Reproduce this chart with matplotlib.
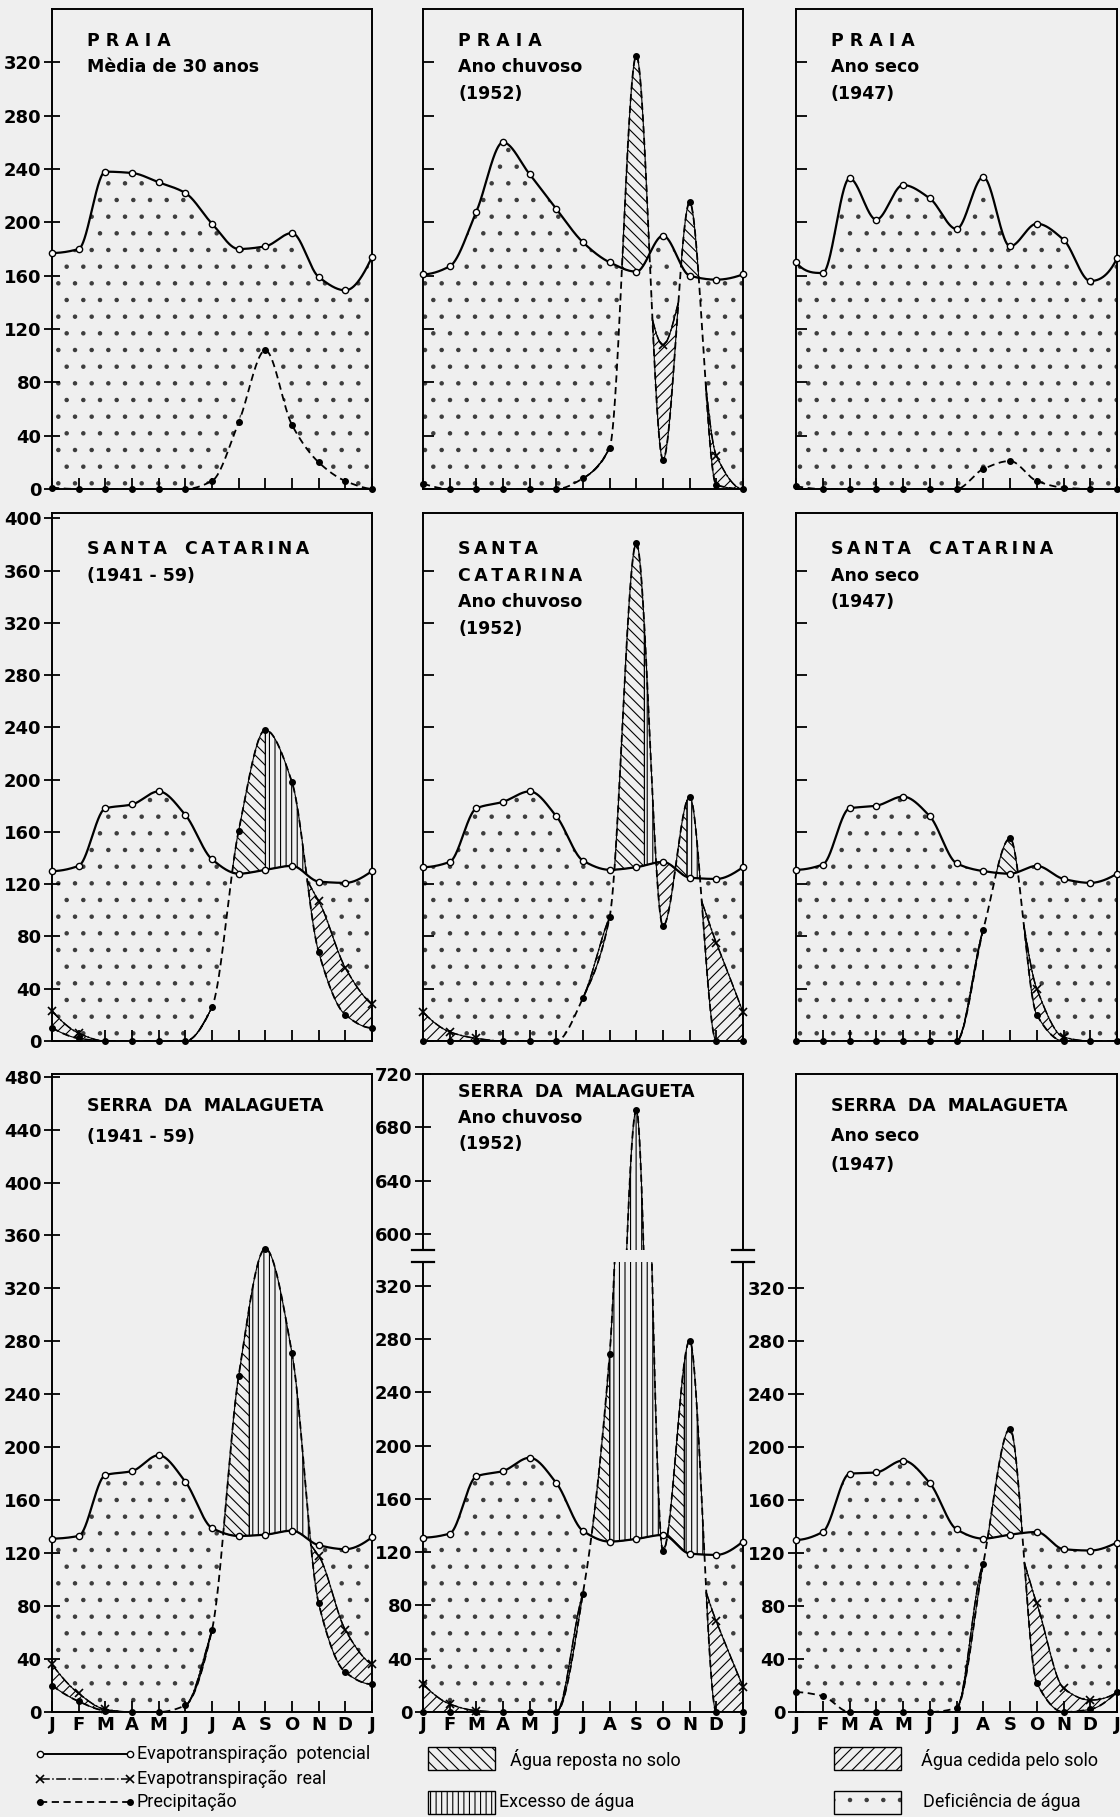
import numpy as np
import matplotlib
matplotlib.use('Agg')
import matplotlib.pyplot as plt
from matplotlib.patches import Rectangle

# ---------------- data (mm, J..J) ----------------
MONTHS = ['J', 'F', 'M', 'A', 'M', 'J', 'J', 'A', 'S', 'O', 'N', 'D', 'J']

EP_PRAIA_MEDIA = [177, 180, 238, 237, 230, 222, 199, 180, 182, 192, 159, 149, 174]
P_PRAIA_MEDIA = [1, 0, 0, 0, 0, 0, 6, 50, 104, 48, 20, 6, 0]
ER_PRAIA_MEDIA = [1, 0, 0, 0, 0, 0, 6, 50, 104, 48, 20, 6, 0]
REP_PRAIA_MEDIA = [(0, 12)]

EP_PRAIA_CHUV = [161, 167, 208, 260, 236, 210, 185, 170, 163, 190, 160, 157, 161]
P_PRAIA_CHUV = [4, 0, 0, 0, 0, 0, 8, 31, 325, 22, 215, 3, 0]
ER_PRAIA_CHUV = [4, 0, 0, 0, 0, 0, 8, 31, 163, 108, 160, 25, 0]
REP_PRAIA_CHUV = [(0, 12)]

EP_PRAIA_SECO = [170, 162, 233, 202, 228, 218, 195, 234, 182, 199, 187, 156, 173]
P_PRAIA_SECO = [2, 0, 0, 0, 0, 0, 0, 15, 21, 6, 1, 0, 0]
ER_PRAIA_SECO = [2, 0, 0, 0, 0, 0, 0, 15, 21, 6, 1, 0, 0]
REP_PRAIA_SECO = [(0, 12)]

EP_SC_MEDIA = [130, 134, 178, 181, 191, 173, 139, 128, 131, 134, 122, 121, 130]
P_SC_MEDIA = [10, 2, 0, 0, 0, 0, 26, 161, 238, 198, 68, 20, 10]
ER_SC_MEDIA = [23, 6, 0, 0, 0, 0, 26, 128, 131, 134, 107, 56, 28]
REP_SC_MEDIA = [(0, 8.0)]

EP_SC_CHUV = [133, 137, 178, 183, 191, 172, 138, 131, 133, 137, 125, 124, 133]
P_SC_CHUV = [0, 0, 0, 0, 0, 0, 33, 95, 381, 88, 187, 0, 0]
ER_SC_CHUV = [22, 7, 2, 0, 0, 0, 33, 95, 133, 137, 125, 75, 22]
REP_SC_CHUV = [(0, 8.3), (9.0, 9.9)]

EP_SC_SECO = [131, 135, 178, 180, 187, 172, 136, 130, 128, 134, 124, 121, 128]
P_SC_SECO = [0, 0, 0, 0, 0, 0, 0, 85, 155, 20, 0, 0, 0]
ER_SC_SECO = [0, 0, 0, 0, 0, 0, 0, 85, 128, 40, 3, 0, 0]
REP_SC_SECO = [(0, 12)]

EP_SM_MEDIA = [131, 133, 179, 182, 194, 174, 139, 133, 134, 137, 126, 123, 132]
P_SM_MEDIA = [20, 8, 1, 0, 0, 5, 62, 254, 350, 271, 82, 30, 21]
ER_SM_MEDIA = [36, 14, 2, 0, 0, 5, 62, 133, 134, 137, 118, 62, 36]
REP_SM_MEDIA = [(0, 7.4)]

EP_SM_CHUV = [131, 134, 177, 181, 191, 172, 136, 128, 130, 133, 119, 118, 128]
P_SM_CHUV = [0, 0, 0, 0, 0, 0, 89, 269, 693, 121, 279, 0, 0]
ER_SM_CHUV = [21, 6, 1, 0, 0, 0, 89, 128, 130, 133, 119, 68, 19]
REP_SM_CHUV = [(0, 7.0), (9.0, 9.8)]

EP_SM_SECO = [130, 136, 180, 181, 190, 173, 138, 131, 134, 136, 123, 122, 128]
P_SM_SECO = [15, 12, 0, 0, 0, 0, 3, 112, 214, 22, 0, 2, 15]
ER_SM_SECO = [15, 12, 0, 0, 0, 0, 3, 112, 134, 82, 18, 9, 15]
REP_SM_SECO = [(0, 12)]

TITLES = {
    'PRAIA_MEDIA': ['P R A I A', 'Mèdia de 30 anos'],
    'PRAIA_CHUV': ['P R A I A', 'Ano chuvoso', '(1952)'],
    'PRAIA_SECO': ['P R A I A', 'Ano seco', '(1947)'],
    'SC_MEDIA': ['S\u2009A\u2009N\u2009T\u2009A   C\u2009A\u2009T\u2009A\u2009R\u2009I\u2009N\u2009A', '(1941 - 59)'],
    'SC_CHUV': ['S\u2009A\u2009N\u2009T\u2009A', 'C\u2009A\u2009T\u2009A\u2009R\u2009I\u2009N\u2009A', 'Ano chuvoso', '(1952)'],
    'SC_SECO': ['S\u2009A\u2009N\u2009T\u2009A   C\u2009A\u2009T\u2009A\u2009R\u2009I\u2009N\u2009A', 'Ano seco', '(1947)'],
    'SM_MEDIA': ['SERRA  DA  MALAGUETA', '(1941 - 59)'],
    'SM_CHUV': ['SERRA  DA  MALAGUETA', 'Ano chuvoso', '(1952)'],
    'SM_SECO': ['SERRA  DA  MALAGUETA', 'Ano seco', '(1947)'],
}

LEG_LINES = ['Evapotranspiração  potencial', 'Evapotranspiração  real', 'Precipitação']
LEG_AREAS = ['Água reposta no solo', 'Excesso de água', 'Água cedida pelo solo', 'Deficiência de água']

# ---------------- style ----------------
W, H = 1120, 1817
BG = '#efefef'
DOT = '#3c3c3c'
plt.rcParams['hatch.linewidth'] = 0.8
plt.rcParams['font.family'] = ['DejaVu Sans']
LEG_FONT = ['Roboto', 'DejaVu Sans']

X = np.arange(13)
XF = np.linspace(0, 12, 2401)


def pchip(x, y, xf):
    x = np.asarray(x, float)
    y = np.asarray(y, float)
    h = np.diff(x)
    delta = np.diff(y) / h
    n = len(x)
    d = np.zeros(n)
    for k in range(1, n - 1):
        if delta[k - 1] * delta[k] > 0:
            w1 = 2 * h[k] + h[k - 1]
            w2 = h[k] + 2 * h[k - 1]
            d[k] = (w1 + w2) / (w1 / delta[k - 1] + w2 / delta[k])

    def endslope(h0, h1, d0, d1):
        s = ((2 * h0 + h1) * d0 - h0 * d1) / (h0 + h1)
        if np.sign(s) != np.sign(d0):
            s = 0.0
        elif np.sign(d0) != np.sign(d1) and abs(s) > abs(3 * d0):
            s = 3 * d0
        return s

    d[0] = endslope(h[0], h[1], delta[0], delta[1])
    d[-1] = endslope(h[-1], h[-2], delta[-1], delta[-2])
    idx = np.clip(np.searchsorted(x, xf, side='right') - 1, 0, n - 2)
    t = (xf - x[idx]) / h[idx]
    h00 = 2 * t ** 3 - 3 * t ** 2 + 1
    h10 = t ** 3 - 2 * t ** 2 + t
    h01 = -2 * t ** 3 + 3 * t ** 2
    h11 = t ** 3 - t ** 2
    return h00 * y[idx] + h10 * h[idx] * d[idx] + h01 * y[idx + 1] + h11 * h[idx] * d[idx + 1]


fig = plt.figure(figsize=(W / 100, H / 100), dpi=100, facecolor=BG)


def add_ax(left, top, width, height):
    ax = fig.add_axes([left / W, 1 - (top + height) / H, width / W, height / H])
    ax.set_facecolor('none')
    return ax


def draw_data(ax, ep, p, er, rep, ylim):
    lo, hi = ylim
    epf = pchip(X, ep, XF)
    pf = np.maximum(pchip(X, p, XF), 0)
    erraw = pchip(X, er, XF)
    erf = np.where(pf >= epf, epf, np.minimum(np.maximum(erraw, pf), epf))
    # deficiency
    ax.fill_between(XF, erf, epf, where=(epf - erf) > 0.05, interpolate=True,
                    facecolor='none', edgecolor=DOT, linewidth=0, hatch='.', zorder=1)
    # water given by soil
    ax.fill_between(XF, pf, erf, where=(erf - pf) > 0.05, interpolate=True,
                    facecolor='none', edgecolor='k', linewidth=0.8, hatch='///', zorder=2)
    # surplus: recharge / excess
    surplus = pf > epf
    rmask = np.zeros_like(XF, dtype=bool)
    for a, b in rep:
        rmask |= (XF >= a) & (XF <= b)
    ax.fill_between(XF, epf, pf, where=surplus & rmask, interpolate=True,
                    facecolor='none', edgecolor='k', linewidth=0.8, hatch='\\\\\\', zorder=2)
    ax.fill_between(XF, epf, pf, where=surplus & ~rmask, interpolate=True,
                    facecolor='none', edgecolor='k', linewidth=0.8, hatch='|||', zorder=2)
    # lines
    ax.plot(XF, epf, color='k', lw=1.6, zorder=4)
    ax.plot(XF, pf, color='k', lw=1.3, ls=(0, (4, 2.5)), zorder=4)
    erline = np.where(erf - pf > 0.3, erf, np.nan)
    ax.plot(XF, erline, color='k', lw=1.1, ls='-.', zorder=4)
    # markers (only those inside the visible value range)
    epa, pa, era = np.array(ep, float), np.array(p, float), np.array(er, float)
    inr = lambda v: (v >= lo - 0.5) & (v <= hi + 0.5)
    m = inr(epa)
    ax.plot(X[m], epa[m], 'o', mfc='white', mec='k', ms=4.5, mew=1.0, zorder=6, clip_on=False)
    m = inr(pa)
    ax.plot(X[m], pa[m], 'o', color='k', ms=4, zorder=5, clip_on=False)
    m = (era - pa > 0.5) & (epa - era > 0.5) & inr(era)
    ax.plot(X[m], era[m], 'x', color='k', ms=6, mew=1.2, zorder=5, clip_on=False)


def style(ax, ylim, yticks, ylabels, xlabels, bottom=True):
    ax.set_xlim(0, 12)
    ax.set_ylim(*ylim)
    for s in ax.spines.values():
        s.set_linewidth(1.4)
    ax.set_yticks(yticks)
    if ylabels:
        ax.set_yticklabels([str(v) for v in yticks], fontsize=13, fontweight='bold')
        ax.tick_params(axis='y', direction='inout', length=11, width=1.3, pad=2)
    else:
        ax.set_yticklabels([])
        ax.tick_params(axis='y', direction='in', length=8, width=1.3)
    if bottom:
        ax.set_xticks(X)
        if xlabels:
            ax.set_xticklabels(MONTHS, fontsize=13, fontweight='bold')
        else:
            ax.set_xticklabels([])
        ax.tick_params(axis='x', direction='in', length=8, width=1.3, pad=3)
    else:
        ax.set_xticks([])


def titles(left, top, lines, dy):
    y = top
    for s in lines:
        fig.text((left + 35) / W, 1 - y / H, s, fontsize=12.5, fontweight='bold',
                 ha='left', va='center')
        y += dy


COLS = [(52, 320), (423, 320), (796, 321)]
ROW1 = (9, 480)
ROW2 = (513, 528)
ROW3 = (1074, 638)

# ---------------- row 1: Praia ----------------
panels1 = [(EP_PRAIA_MEDIA, P_PRAIA_MEDIA, ER_PRAIA_MEDIA, REP_PRAIA_MEDIA, 'PRAIA_MEDIA'),
           (EP_PRAIA_CHUV, P_PRAIA_CHUV, ER_PRAIA_CHUV, REP_PRAIA_CHUV, 'PRAIA_CHUV'),
           (EP_PRAIA_SECO, P_PRAIA_SECO, ER_PRAIA_SECO, REP_PRAIA_SECO, 'PRAIA_SECO')]
for i, (ep, p, er, rep, key) in enumerate(panels1):
    ax = add_ax(COLS[i][0], ROW1[0], COLS[i][1], ROW1[1])
    yl = (0, 360)
    draw_data(ax, ep, p, er, rep, yl)
    style(ax, yl, list(range(0, 321, 40)), i == 0, False)
    titles(COLS[i][0], 41, TITLES[key], 26.5)

# ---------------- row 2: Santa Catarina ----------------
panels2 = [(EP_SC_MEDIA, P_SC_MEDIA, ER_SC_MEDIA, REP_SC_MEDIA, 'SC_MEDIA'),
           (EP_SC_CHUV, P_SC_CHUV, ER_SC_CHUV, REP_SC_CHUV, 'SC_CHUV'),
           (EP_SC_SECO, P_SC_SECO, ER_SC_SECO, REP_SC_SECO, 'SC_SECO')]
for i, (ep, p, er, rep, key) in enumerate(panels2):
    ax = add_ax(COLS[i][0], ROW2[0], COLS[i][1], ROW2[1])
    yl = (0, 404)
    draw_data(ax, ep, p, er, rep, yl)
    ticks = list(range(0, 401, 40)) if i == 0 else list(range(0, 361, 40))
    style(ax, yl, ticks, i == 0, False)
    titles(COLS[i][0], 549, TITLES[key], 26.7)

# ---------------- row 3: Serra da Malagueta ----------------
ax = add_ax(COLS[0][0], ROW3[0], COLS[0][1], ROW3[1])
yl = (0, 482)
draw_data(ax, EP_SM_MEDIA, P_SM_MEDIA, ER_SM_MEDIA, REP_SM_MEDIA, yl)
style(ax, yl, list(range(0, 481, 40)), True, True)
titles(COLS[0][0], 1106, TITLES['SM_MEDIA'], 31)

# middle with broken axis
ax_hi = add_ax(COLS[1][0], 1074, COLS[1][1], 176)
ax_lo = add_ax(COLS[1][0], 1262, COLS[1][1], 450)
YL_HI, YL_LO = (588, 720), (0, 338)
draw_data(ax_hi, EP_SM_CHUV, P_SM_CHUV, ER_SM_CHUV, REP_SM_CHUV, YL_HI)
draw_data(ax_lo, EP_SM_CHUV, P_SM_CHUV, ER_SM_CHUV, REP_SM_CHUV, YL_LO)
style(ax_hi, YL_HI, [600, 640, 680, 720], True, False, bottom=False)
style(ax_lo, YL_LO, list(range(0, 321, 40)), True, True)
ax_hi.spines['bottom'].set_visible(False)
ax_lo.spines['top'].set_visible(False)
for a, yy in ((ax_hi, 0), (ax_lo, 1)):
    for xx in (0, 1):
        a.plot([xx - 0.035, xx + 0.035], [yy, yy], transform=a.transAxes,
               color='k', lw=1.6, clip_on=False, zorder=7)
titles(COLS[1][0], 1092, TITLES['SM_CHUV'], 26)

ax = add_ax(COLS[2][0], ROW3[0], COLS[2][1], ROW3[1])
yl = (0, 482)
draw_data(ax, EP_SM_SECO, P_SM_SECO, ER_SM_SECO, REP_SM_SECO, yl)
style(ax, yl, list(range(0, 321, 40)), True, True)
titles(COLS[2][0], 1106, TITLES['SM_SECO'], 29.5)

# ---------------- legend ----------------
lax = fig.add_axes([0, 0, 1, 1], facecolor='none')
lax.set_xlim(0, W)
lax.set_ylim(H, 0)
lax.axis('off')
ly = [1754, 1779, 1802]
xs = [40, 130]
lax.plot(xs, [ly[0]] * 2, color='k', lw=1.4)
lax.plot(xs, [ly[0]] * 2, 'o', mfc='white', mec='k', ms=4.5, mew=1.0)
lax.plot(xs, [ly[1]] * 2, color='k', lw=1.1, ls='-.')
lax.plot(xs, [ly[1]] * 2, 'x', color='k', ms=6, mew=1.2)
lax.plot(xs, [ly[2]] * 2, color='k', lw=1.3, ls=(0, (4, 2.5)))
lax.plot(xs, [ly[2]] * 2, 'o', color='k', ms=4)
for yy, s in zip(ly, LEG_LINES):
    lax.text(137, yy, s, fontsize=13, family=LEG_FONT, va='center', ha='left')

boxes = [((428, 1747), '\\\\\\', LEG_AREAS[0], 510, 1759, 'k'),
         ((428, 1791), '|||', LEG_AREAS[1], 499, 1802, 'k'),
         ((834, 1747), '///', LEG_AREAS[2], 921, 1759, 'k'),
         ((834, 1791), '.', LEG_AREAS[3], 923, 1802, DOT)]
for (bx, by), hatch, label, tx, ty, hc in boxes:
    lax.add_patch(Rectangle((bx, by), 67, 23, facecolor='none', edgecolor=hc,
                            lw=0, hatch=hatch))
    lax.add_patch(Rectangle((bx, by), 67, 23, facecolor='none', edgecolor='k', lw=1.0))
    lax.text(tx, ty, label, fontsize=13, family=LEG_FONT, va='center', ha='left')

fig.savefig('out.png', dpi=100, facecolor=BG)
